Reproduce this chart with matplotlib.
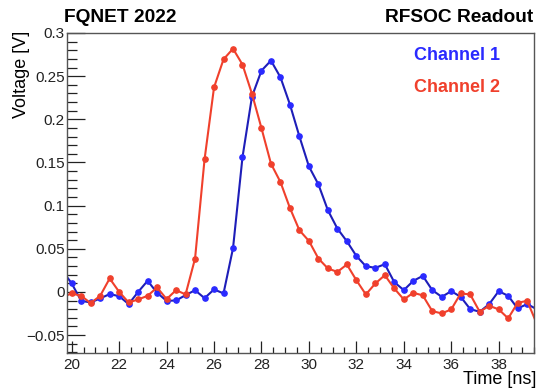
import numpy as np
import matplotlib
matplotlib.use("Agg")
import matplotlib.pyplot as plt
import matplotlib.ticker as mticker

plt.rcParams["font.family"] = ["Liberation Sans", "DejaVu Sans"]
plt.rcParams["axes.unicode_minus"] = True

# sample times [ns], 0.4 ns spacing
time = np.round(np.arange(19.6, 39.61, 0.4), 2)

ch1 = [0.025,
       0.0098, -0.0103, -0.0122, -0.0075, -0.0025, -0.0049, -0.0141, 0.0000,
       0.0129, -0.0010, -0.0103, -0.0099, -0.0037, 0.0020, -0.0072, 0.0029,
       -0.0017, 0.0506, 0.1562, 0.2264, 0.2564, 0.2680, 0.2487, 0.2171,
       0.1801, 0.1454, 0.1246, 0.0946, 0.0734, 0.0587, 0.0417, 0.0298,
       0.0279, 0.0321, 0.0113, 0.0021, 0.0128, 0.0186, 0.0021, -0.0057,
       0.0009, -0.0057, -0.0199, -0.0230, -0.0141, 0.0009, -0.0045, -0.0191,
       -0.0141, -0.0199]

ch2 = [-0.006,
       -0.0017, -0.0045, -0.0130, -0.0045, 0.0156, 0.0001, -0.0122, -0.0087,
       -0.0045, 0.0052, -0.0083, 0.0021, -0.0029, 0.0387, 0.1535, 0.2370,
       0.2695, 0.2818, 0.2634, 0.2295, 0.1897, 0.1486, 0.1273, 0.0972,
       0.0714, 0.0591, 0.0387, 0.0272, 0.0232, 0.0318, 0.0136, -0.0029,
       0.0098, 0.0194, 0.0040, -0.0087, -0.0010, -0.0040, -0.0222, -0.0249,
       -0.0202, -0.0017, -0.0029, -0.0230, -0.0160, -0.0202, -0.0306, -0.0126,
       -0.0103, -0.0364]

BLUE = "#1e1eb8"
RED = "#f0402c"

fig = plt.figure(figsize=(5.36, 3.89), dpi=100)
ax = fig.add_axes([0.1256, 0.0933, 0.8716, 0.8219])

ax.plot(time, ch1, color=BLUE, lw=1.5, marker="o", ms=3.8,
        mfc="#2a2aff", mec="#2a2aff")
ax.plot(time, ch2, color=RED, lw=1.5, marker="o", ms=3.8,
        mfc=RED, mec=RED)

ax.set_xlim(19.815, 39.51)
ax.set_ylim(-0.0704, 0.3)

ax.xaxis.set_major_locator(mticker.MultipleLocator(2))
ax.xaxis.set_minor_locator(mticker.MultipleLocator(0.5))
ax.yaxis.set_major_locator(mticker.MultipleLocator(0.05))
ax.yaxis.set_minor_locator(mticker.MultipleLocator(0.01))
ax.yaxis.set_major_formatter(mticker.FuncFormatter(
    lambda v, _: "0" if abs(v) < 1e-9 else f"{v:.2f}".rstrip("0").replace("-", "\u2212")))

ax.tick_params(which="both", direction="in", top=False, right=False,
               labelsize=11, colors="#222222", width=0.9)
ax.tick_params(axis="x", which="major", length=9, pad=4)
ax.tick_params(axis="x", which="minor", length=4.5)
ax.tick_params(axis="y", which="major", length=13, pad=2)
ax.tick_params(axis="y", which="minor", length=7)
for s in ax.spines.values():
    s.set_color("#555555")
    s.set_linewidth(1.0)

fig.text(64 / 536, 1 - 22 / 389, "FQNET 2022", fontsize=13.8, fontweight="bold",
         ha="left", va="baseline")
fig.text(533 / 536, 1 - 22 / 389, "RFSOC Readout", fontsize=13.8, fontweight="bold",
         ha="right", va="baseline")
fig.text(414 / 536, 1 - 55 / 389, "Channel 1", fontsize=13, fontweight="bold",
         color="#2a2aff", ha="left", va="center")
fig.text(414 / 536, 1 - 87 / 389, "Channel 2", fontsize=13, fontweight="bold",
         color=RED, ha="left", va="center")
fig.text(22 / 536, 1 - 31 / 389, "Voltage [V]", fontsize=13, rotation=90,
         ha="center", va="top")
fig.text(536 / 536, 1 - 380 / 389, "Time [ns]", fontsize=13,
         ha="right", va="center")

fig.savefig("out.png", dpi=100)
